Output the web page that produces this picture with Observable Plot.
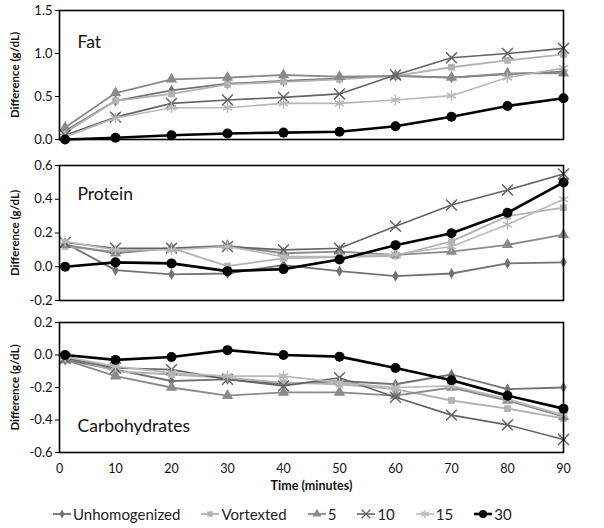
<!DOCTYPE html>
<html><head><meta charset="utf-8">
<script src="https://cdn.jsdelivr.net/npm/d3@7"></script>
<script src="https://cdn.jsdelivr.net/npm/@observablehq/plot@0.6"></script>
<style>
body{margin:0;background:#fff;font-family:Lato,"DejaVu Sans",sans-serif;}
#wrap{position:relative;width:604px;height:528px;overflow:hidden;}
.panel{position:absolute;left:0;}
#legend{position:absolute;left:53px;top:505px;display:flex;align-items:center;gap:21px;font-size:15px;color:#222;white-space:nowrap;}
#legend .it{display:flex;align-items:center;}
#legend svg{margin-right:2px;}
</style></head>
<body><div id="wrap"></div>
<script>
const times = [1,10,20,30,40,50,60,70,80,90];
const seriesNames = ["Unhomogenized","Vortexted","5","10","15","30"];

// Fat (g/dL)
const fatUnhomogenized = [0.10,0.45,0.57,0.65,0.68,0.71,0.74,0.72,0.76,0.79];
const fatVortexted     = [0.08,0.45,0.53,0.64,0.67,0.70,0.74,0.84,0.92,0.99];
const fat5             = [0.14,0.54,0.70,0.72,0.75,0.73,0.74,0.72,0.77,0.77];
const fat10            = [0.05,0.26,0.42,0.46,0.49,0.53,0.75,0.95,1.00,1.06];
const fat15            = [0.03,0.25,0.37,0.37,0.42,0.42,0.46,0.51,0.72,0.83];
const fat30            = [0.00,0.02,0.05,0.07,0.08,0.09,0.155,0.265,0.39,0.48];

// Protein (g/dL)
const proUnhomogenized = [0.14,-0.02,-0.045,-0.04,0.01,-0.026,-0.055,-0.04,0.02,0.026];
const proVortexted     = [0.12,0.09,0.11,0.004,0.05,0.057,0.065,0.15,0.30,0.35];
const pro5             = [0.13,0.08,0.11,0.125,0.08,0.09,0.07,0.09,0.13,0.19];
const pro10            = [0.144,0.11,0.11,0.12,0.10,0.11,0.24,0.366,0.455,0.55];
const pro15            = [0.15,0.10,0.10,0.12,0.06,0.06,0.073,0.12,0.25,0.40];
const pro30            = [0.00,0.026,0.02,-0.026,-0.014,0.043,0.128,0.198,0.32,0.50];

// Carbohydrates (g/dL)
const carbUnhomogenized = [-0.03,-0.09,-0.16,-0.15,-0.18,-0.16,-0.18,-0.12,-0.21,-0.20];
const carbVortexted     = [-0.01,-0.10,-0.12,-0.14,-0.17,-0.18,-0.21,-0.28,-0.33,-0.39];
const carb5             = [-0.03,-0.13,-0.20,-0.25,-0.23,-0.23,-0.25,-0.20,-0.28,-0.38];
const carb10            = [-0.02,-0.08,-0.09,-0.15,-0.19,-0.14,-0.26,-0.37,-0.43,-0.52];
const carb15            = [-0.01,-0.07,-0.11,-0.13,-0.13,-0.17,-0.20,-0.19,-0.27,-0.37];
const carb30            = [0.00,-0.03,-0.012,0.03,0.00,-0.01,-0.08,-0.155,-0.25,-0.33];

const fatTicks = [0,0.5,1.0,1.5];
const proTicks = [-0.2,0,0.2,0.4,0.6];
const carbTicks = [-0.6,-0.4,-0.2,0,0.2];
const xTicks = [0,10,20,30,40,50,60,70,80,90];

const styles = {
  "Unhomogenized": {color:"#727272", symbol:"diamond", r:3.4, filled:true, sw:1.8},
  "Vortexted":     {color:"#b2b2b2", symbol:"square", r:3.8, filled:true, sw:1.8},
  "5":             {color:"#8a8a8a", symbol:"triangle", r:4.2, filled:true, sw:1.8},
  "10":            {color:"#636363", symbol:"times", r:5, filled:false, sw:1.6},
  "15":            {color:"#b8b8b8", symbol:"asterisk", r:5, filled:false, sw:1.6},
  "30":            {color:"#000000", symbol:"circle", r:5, filled:true, sw:2.6}
};
const d3sym = {diamond:d3.symbolDiamond, square:d3.symbolSquare, triangle:d3.symbolTriangle, times:d3.symbolTimes, asterisk:d3.symbolAsterisk, circle:d3.symbolCircle};

function rows(arrs){
  const out=[];
  seriesNames.forEach((s,i)=>times.forEach((t,j)=>out.push({series:s,time:t,value:arrs[i][j]})));
  return out;
}
const fmt = d => d.toFixed(1);
const font = "Lato, 'DejaVu Sans', sans-serif";

function panel({data, domain, ticks, title, titleAnchor, titleDy, height, marginTop, marginBottom, bottomAxis}){
  const marks = [];
  for (const s of seriesNames){
    const st = styles[s];
    const d = data.filter(r=>r.series===s);
    marks.push(Plot.line(d,{x:"time",y:"value",stroke:st.color,strokeWidth:st.sw}));
    marks.push(Plot.dot(d,{x:"time",y:"value",symbol:()=>st.symbol,r:st.r,
      fill: st.filled? st.color : "none", stroke: st.filled? "none" : st.color, strokeWidth: st.filled?0:1.5}));
  }
  marks.push(Plot.frame({stroke:"#000",strokeWidth:1.6}));
  marks.push(Plot.axisY({ticks, tickFormat:fmt, tickSize:4, tickPadding:3, label:null, fontSize:13, stroke:"#000"}));
  marks.push(Plot.text([title],{frameAnchor:titleAnchor, dx:18, dy:titleDy, lineAnchor:"middle", textAnchor:"start", fontSize:17.5, fill:"#111"}));
  marks.push(Plot.text(["Difference (g/dL)"],{frameAnchor:"left", dx:-44, rotate:-90, textAnchor:"middle", lineAnchor:"middle", fontSize:11.5, fontWeight:"bold", fill:"#111"}));
  if (bottomAxis){
    marks.push(Plot.axisX({ticks:xTicks, tickSize:0, tickPadding:12, label:null, fontSize:12.5}));
    marks.push(Plot.text(["Time (minutes)"],{frameAnchor:"bottom", dy:33, lineAnchor:"middle", fontSize:12.5, fontWeight:"bold", fill:"#111"}));
  }
  return Plot.plot({
    width:604, height, marginLeft:59, marginRight:41, marginTop, marginBottom,
    style:{fontFamily:font, color:"#111", background:"transparent", overflow:"visible"},
    x:{domain:[0,90], axis:null},
    y:{domain, axis:null},
    symbol:{type:"identity"},
    marks
  });
}

const wrap = document.getElementById("wrap");
function place(el, top){ const d=document.createElement("div"); d.className="panel"; d.style.top=top+"px"; d.appendChild(el); wrap.appendChild(d); }

place(panel({data:rows([fatUnhomogenized,fatVortexted,fat5,fat10,fat15,fat30]), domain:[0,1.5], ticks:fatTicks,
  title:"Fat", titleAnchor:"top-left", titleDy:31.5, height:153, marginTop:10, marginBottom:14}), 0);
place(panel({data:rows([proUnhomogenized,proVortexted,pro5,pro10,pro15,pro30]), domain:[-0.2,0.6], ticks:proTicks,
  title:"Protein", titleAnchor:"top-left", titleDy:29, height:157, marginTop:10, marginBottom:12}), 155);
place(panel({data:rows([carbUnhomogenized,carbVortexted,carb5,carb10,carb15,carb30]), domain:[-0.6,0.2], ticks:carbTicks,
  title:"Carbohydrates", titleAnchor:"bottom-left", titleDy:-26.5, height:185, marginTop:10, marginBottom:45, bottomAxis:true}), 312);

// Legend
const leg = document.createElement("div"); leg.id="legend";
for (const s of seriesNames){
  const st = styles[s];
  const it = document.createElement("div"); it.className="it";
  const svg = d3.create("svg").attr("width",18).attr("height",14);
  svg.append("line").attr("x1",0).attr("x2",18).attr("y1",7).attr("y2",7).attr("stroke",st.color).attr("stroke-width",st.sw);
  const size = Math.PI*(st.r*0.8)**2;
  svg.append("path").attr("transform","translate(9,7)").attr("d",d3.symbol(d3sym[st.symbol],size)())
    .attr("fill",st.filled?st.color:"none").attr("stroke",st.filled?"none":st.color).attr("stroke-width",1.3);
  it.appendChild(svg.node());
  const sp=document.createElement("span"); sp.textContent=s; it.appendChild(sp);
  leg.appendChild(it);
}
wrap.appendChild(leg);
</script>
</body></html>
